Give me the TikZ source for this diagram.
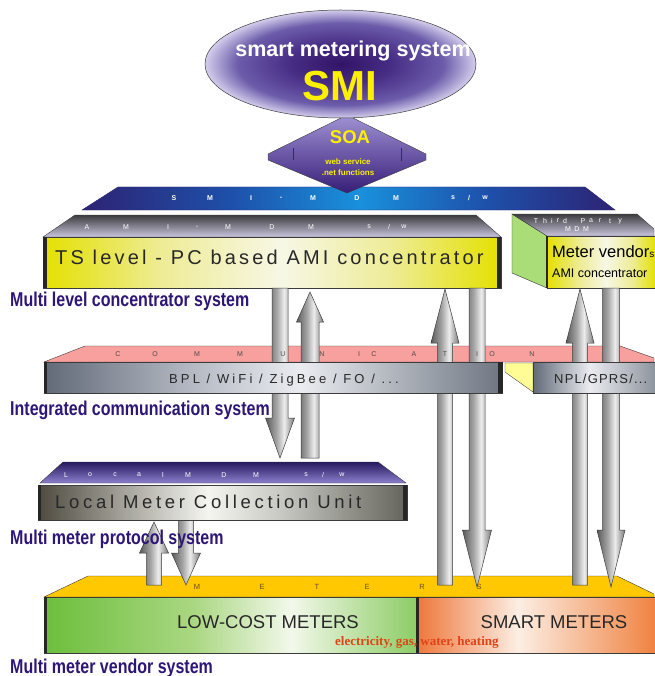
\documentclass[tikz,border=0pt]{standalone}
\usepackage{fontspec}
\setmainfont{Liberation Sans}
\newfontfamily\lblfont[FakeStretch=0.8]{Liberation Sans}
\newfontfamily\serifface{Liberation Serif}

% ---------- colours ----------
\definecolor{lblpurple}{RGB}{46,22,118}
\definecolor{smiyellow}{RGB}{250,240,0}
\definecolor{darktext}{RGB}{40,40,40}
\definecolor{outline}{RGB}{60,60,60}
\definecolor{barEdge}{RGB}{45,35,115}
\definecolor{barQ}{RGB}{30,80,170}
\definecolor{barMid}{RGB}{25,145,220}
\definecolor{elC}{RGB}{50,20,102}
\definecolor{elA}{RGB}{70,44,132}
\definecolor{elB}{RGB}{108,92,170}
\definecolor{elE}{RGB}{212,205,236}
\definecolor{amiY}{RGB}{228,224,0}
\definecolor{amiL}{RGB}{238,236,150}
\definecolor{amiW}{RGB}{247,247,230}
\definecolor{bplD}{RGB}{98,106,120}
\definecolor{bplM}{RGB}{175,180,190}
\definecolor{bplW}{RGB}{234,236,240}
\definecolor{bplR}{RGB}{110,118,130}
\definecolor{nplR}{RGB}{140,146,156}
\definecolor{locD}{RGB}{78,74,64}
\definecolor{locM}{RGB}{160,158,150}
\definecolor{locW}{RGB}{245,245,240}
\definecolor{locL}{RGB}{200,200,195}
\definecolor{locR}{RGB}{100,100,92}
\definecolor{grL}{RGB}{108,190,60}
\definecolor{grM}{RGB}{170,215,130}
\definecolor{grW}{RGB}{242,248,234}
\definecolor{grR}{RGB}{140,204,100}
\definecolor{orL}{RGB}{238,120,60}
\definecolor{orW}{RGB}{252,238,228}
\definecolor{orR}{RGB}{240,130,64}
\definecolor{arD}{RGB}{90,90,90}
\definecolor{arM}{RGB}{165,165,165}
\definecolor{arW}{RGB}{236,236,236}
\definecolor{arR}{RGB}{120,120,120}
\definecolor{pinkface}{RGB}{248,160,158}
\definecolor{meterface}{RGB}{255,200,0}
\definecolor{sidegreen}{RGB}{170,220,120}
\definecolor{paleyellow}{RGB}{255,252,150}
\definecolor{fuelred}{RGB}{226,66,24}

% ---------- shadings ----------
\pgfdeclarehorizontalshading{smibarsh}{100bp}{color(0bp)=(barEdge); color(25bp)=(barEdge); color(39bp)=(barQ); color(51bp)=(barMid); color(63bp)=(barQ); color(75bp)=(barEdge); color(100bp)=(barEdge)}
\pgfdeclareradialshading{smiell}{\pgfpointorigin}{color(0bp)=(elC); color(9bp)=(elA); color(19bp)=(elB); color(25bp)=(elE); color(50bp)=(elE)}
\pgfdeclarehorizontalshading{amish}{100bp}{color(0bp)=(amiY); color(25bp)=(amiY); color(38bp)=(amiL); color(51bp)=(amiW); color(63bp)=(amiL); color(75bp)=(amiY); color(100bp)=(amiY)}
\pgfdeclarehorizontalshading{tpsh}{100bp}{color(0bp)=(amiY); color(25bp)=(amiY); color(40bp)=(amiL); color(52bp)=(amiW); color(64bp)=(amiL); color(75bp)=(amiY); color(100bp)=(amiY)}
\pgfdeclarehorizontalshading{bplsh}{100bp}{color(0bp)=(bplD); color(25bp)=(bplD); color(40bp)=(bplM); color(53bp)=(bplW); color(75bp)=(bplR); color(100bp)=(bplR)}
\pgfdeclarehorizontalshading{nplsh}{100bp}{color(0bp)=(bplD); color(25bp)=(bplD); color(48bp)=(bplW); color(75bp)=(nplR); color(100bp)=(nplR)}
\pgfdeclarehorizontalshading{locsh}{100bp}{color(0bp)=(locD); color(25bp)=(locD); color(36bp)=(locM); color(48bp)=(locW); color(58bp)=(locL); color(75bp)=(locR); color(100bp)=(locR)}
\pgfdeclarehorizontalshading{greensh}{100bp}{color(0bp)=(grL); color(25bp)=(grL); color(45bp)=(grM); color(58bp)=(grW); color(75bp)=(grR); color(100bp)=(grR)}
\pgfdeclarehorizontalshading{orangesh}{100bp}{color(0bp)=(orL); color(25bp)=(orL); color(46bp)=(orW); color(75bp)=(orR); color(100bp)=(orR)}
\pgfdeclarehorizontalshading{arrsh}{100bp}{color(0bp)=(arD); color(25bp)=(arD); color(44bp)=(arM); color(57bp)=(arW); color(75bp)=(arR); color(100bp)=(arR)}

% block arrow: x centre, tail y, head base y, tip y, shaft half width, head half width
\newcommand\blockarrow[6]{%
  \shadedraw[arrowbody] ({#1-#5},#2) -- ({#1-#5},#3) -- ({#1-#6},#3) -- (#1,#4)
    -- ({#1+#6},#3) -- ({#1+#5},#3) -- ({#1+#5},#2) -- cycle;}

\begin{document}
\begin{tikzpicture}[x=1pt,y=-1pt,
  arrowbody/.style={shading=arrsh, draw=outline, line width=0.5pt},
  face/.style={draw=outline, line width=0.4pt},
  band/.style={fill=black!85, draw=none},
  lbl/.style={anchor=base west, inner sep=0pt, text=lblpurple,
    font=\lblfont\bfseries\fontsize{20}{22}\selectfont},
  tinyletter/.style={inner sep=0pt, font=\fontsize{7}{8}\selectfont},
  whiteletter/.style={tinyletter, text=white},
  greyletter/.style={tinyletter, text=black!70},
  bigspaced/.style={anchor=base west, inner sep=0pt, text=darktext}]

\useasboundingbox (0,0) rectangle (654,676);
\fill[white] (0,0) rectangle (654,676);

% ---------- SMI-MDM software bar ----------
\shadedraw[shading=smibarsh, draw=barEdge, line width=0.4pt]
  (82,210) -- (118,187) -- (585,187) -- (615,210) -- cycle;
\foreach \xx/\ch [count=\i] in {174/S,210/M,251/I,281/{-},313/M,357/D,396/M,453/s,469/{/},485/w}
  \node[whiteletter, font=\bfseries\fontsize{7}{8}\selectfont] (smimdm\i) at (\xx,198) {\ch};

% ---------- SOA double arrow ----------
\shadedraw[top color={rgb,255:red,160;green,146;blue,212},
  middle color={rgb,255:red,100;green,80;blue,168},
  bottom color={rgb,255:red,55;green,30;blue,120}, draw=outline, line width=0.4pt]
  (347,115) -- (426,154) -- (426,160) -- (347,193) -- (268,160) -- (268,154) -- cycle;
\draw[black!80, line width=1pt] (293,148) -- (293,160) (401,148) -- (401,161);
\node[anchor=base, inner sep=0pt, text=smiyellow, font=\bfseries\fontsize{18.5}{20}\selectfont] (soa) at (350,144) {SOA};
\node[anchor=base, inner sep=0pt, text=smiyellow, font=\bfseries\fontsize{8}{9}\selectfont] (websvc) at (348,165) {web service};
\node[anchor=base, inner sep=0pt, text=smiyellow, font=\bfseries\fontsize{8}{9}\selectfont] (netfn) at (348,176) {.net functions};

% ---------- SMI ellipse ----------
\shadedraw[shading=smiell, draw=outline, line width=0.5pt] (340.5,64) ellipse [x radius=135.5, y radius=54];
\node[anchor=base, inner sep=0pt, text=white, font=\bfseries\fontsize{21.5}{23}\selectfont] (sms) at (353,57) {smart metering system};
\node[anchor=base, inner sep=0pt, text=smiyellow, font=\bfseries\fontsize{42}{44}\selectfont] (smi) at (340,101) {SMI};

% ---------- AMI concentrator slab ----------
\shadedraw[face, top color={rgb,255:red,60;green,60;blue,62}, bottom color={rgb,255:red,202;green,198;blue,222}]
  (43,237) -- (75,215) -- (476,215) -- (501,237) -- cycle;
\shadedraw[face, shading=amish] (43,237) rectangle (501,288);
\fill[band] (43,237) rectangle (47,288);
\fill[band] (497,237) rectangle (501,288);
\foreach \xx/\ch [count=\i] in {87/A,126/M,168/I,197/{-},228/M,272/D,311/M,369/s,389/{/},404/w}
  \node[whiteletter] (amimdm\i) at (\xx,227) {\ch};
\node[bigspaced, font=\fontsize{20}{22}\selectfont\addfontfeature{LetterSpace=16}] (tslevel) at (55,264)
  {TS level - PC based AMI concentrator};

% ---------- third party concentrator box ----------
\filldraw[face, fill=sidegreen] (512,214) -- (547,236) -- (547,288) -- (512,273) -- cycle;
\shadedraw[face, top color={rgb,255:red,60;green,60;blue,62}, bottom color={rgb,255:red,202;green,198;blue,222}]
  (512,214) -- (637,214) -- (654,229) -- (654,236) -- (547,236) -- cycle;
\shadedraw[face, shading=tpsh] (547,236) rectangle (656,288);
\draw[black!85, line width=1.2pt] (547,236) -- (547,288);
\foreach \xx/\ch [count=\i] in {536/T,545/h,552/i,558/r,565/d,583/P,591/a,600/r,610/t,620/y}
  \node[whiteletter] (tparty\i) at (\xx,221) {\ch};
\foreach \xx/\ch [count=\i] in {568/M,577/D,586/M}
  \node[whiteletter] (tpmdm\i) at (\xx,229) {\ch};
\node[anchor=base west, inner sep=0pt, text=black, font=\fontsize{16.5}{17}\selectfont] (mvendor) at (552,257)
  {Meter vendor{\fontsize{10}{11}\selectfont s}};
\node[anchor=base west, inner sep=0pt, text=black, font=\fontsize{12.5}{13}\selectfont] (amiconc) at (552,277)
  {AMI concentrator};

% ---------- meters slab ----------
\filldraw[face, fill=meterface] (44,597) -- (88,576) -- (617,576) -- (654,594) -- (654,597) -- cycle;
\shadedraw[face, shading=greensh] (44,597) rectangle (418,653);
\shadedraw[face, shading=orangesh] (418,597) rectangle (656,653);
\fill[band] (44,597) rectangle (47,653);
\fill[band] (416,597) rectangle (419,653);

% ---------- communication slab, top face ----------
\filldraw[face, fill=pinkface] (44,362) -- (85,346) -- (620,346) -- (654,358) -- (654,362) -- cycle;

% ---------- data flow arrows ----------
\blockarrow{280}{288}{418}{458}{8}{14.5}
\blockarrow{310}{458}{322}{292}{9}{13.5}
\blockarrow{445}{585}{343}{289}{7.5}{14}
\blockarrow{477}{288}{530}{587}{8}{14.5}
\blockarrow{580}{585}{343}{289}{7.5}{14}
\blockarrow{611}{288}{530}{587}{8.5}{14}
\blockarrow{154}{585}{553}{522}{7.5}{14.5}
\blockarrow{186}{520}{553}{585}{7.5}{14.5}

% ---------- communication slab, front faces ----------
\shadedraw[face, shading=bplsh] (44,362) rectangle (502,393);
\fill[band] (44,362) rectangle (47,393);
\fill[band] (498,362) rectangle (503,393);
\filldraw[face, fill=paleyellow] (505,363) -- (533,363) -- (533,392) -- (505,372) -- cycle;
\shadedraw[face, shading=nplsh] (533,362) rectangle (656,393);
\foreach \xx/\ch [count=\i] in {118/C,155/O,197/M,240/M,283/U,322/N,359/I,374/C,414/A,445/T,477/I,492/O,532/N}
  \node[greyletter] (comm\i) at (\xx,354) {\ch};
\node[bigspaced, font=\fontsize{13}{14}\selectfont\addfontfeature{LetterSpace=24}] (bpl) at (169,383)
  {BPL / WiFi / ZigBee / FO / ...};
\node[bigspaced, font=\fontsize{13}{14}\selectfont\addfontfeature{LetterSpace=9}] (npl) at (554,383)
  {NPL/GPRS/...};

% ---------- meters slab labels ----------
\foreach \xx/\ch [count=\i] in {197/M,262/E,317/T,367/E,422/R,479/S}
  \node[tinyletter, text={rgb,255:red,100;green,80;blue,30}, font=\fontsize{7.5}{8}\selectfont] (meters\i) at (\xx,587) {\ch};
\node[anchor=base, inner sep=0pt, text=darktext, font=\fontsize{18.5}{20}\selectfont] (lowcost) at (268,628) {LOW-COST METERS};
\node[anchor=base, inner sep=0pt, text=darktext, font=\fontsize{18.5}{20}\selectfont] (smartm) at (554,628) {SMART METERS};
\node[anchor=base west, inner sep=0pt, text=fuelred, font=\serifface\bfseries\fontsize{13}{14}\selectfont] (fuels) at (335,645)
  {electricity, gas, water, heating};

% ---------- local meter collection unit ----------
\shadedraw[face, top color={rgb,255:red,38;green,25;blue,95}, bottom color={rgb,255:red,140;green,128;blue,205}]
  (40,483) -- (63,462) -- (378,462) -- (406,483) -- cycle;
\shadedraw[face, shading=locsh] (38,485) rectangle (407,520);
\fill[band] (38,485) rectangle (41,520);
\fill[band] (403,485) rectangle (407,520);
\foreach \xx/\ch [count=\i] in {66/L,90/o,115/c,139/a,163/l,188/M,224/D,256/M,306/s,323/{/},342/w}
  \node[whiteletter] (localmdm\i) at (\xx,475) {\ch};
\node[bigspaced, font=\fontsize{18.5}{20}\selectfont\addfontfeature{LetterSpace=20}] (lmcu) at (55,508)
  {Local Meter Collection Unit};

% ---------- system level captions ----------
\node[lbl] (cap1) at (10,306) {Multi level concentrator system};
\node[lbl] (cap2) at (10,415) {Integrated communication system};
\node[lbl] (cap3) at (10,544) {Multi meter protocol system};
\node[lbl] (cap4) at (10,673) {Multi meter vendor system};

\end{tikzpicture}
\end{document}
